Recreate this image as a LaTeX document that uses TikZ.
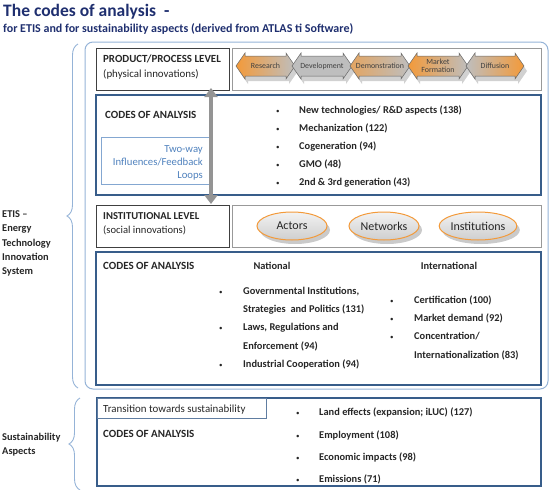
\documentclass[tikz,border=0pt]{standalone}
\usepackage{fontspec}
\setmainfont{Carlito}
\usetikzlibrary{arrows.meta,decorations.pathreplacing,shadows,shapes.geometric}
\definecolor{navy}{HTML}{1F2F6F}
\definecolor{lblue}{HTML}{95B3D7}
\definecolor{dblue}{HTML}{385D8A}
\definecolor{twblue}{HTML}{4F81BD}
\definecolor{orng}{HTML}{F39A3A}
\definecolor{cgray}{HTML}{BEBEBE}
\definecolor{txt}{HTML}{262626}
\tikzset{
  lbl/.style={anchor=base west, inner sep=0pt, text=txt, font=\fontsize{10.4}{12}\selectfont\bfseries},
  capstxt/.style={anchor=base west, inner sep=0pt, text=txt, font=\fontsize{11}{12}\selectfont\bfseries},
  reg/.style={anchor=base west, inner sep=0pt, text=txt, font=\fontsize{10.9}{12}\selectfont},
  bul/.style={anchor=base west, inner sep=0pt, text=txt, font=\fontsize{7}{8}\selectfont},
  twtxt/.style={anchor=base east, inner sep=0pt, text=twblue, font=\fontsize{10.7}{12}\selectfont},
  codebox/.style={draw=dblue, line width=1.1pt},
  levelbox/.style={draw=black!75, line width=0.8pt},
  graybox/.style={draw=black!40, line width=0.8pt},
  chevtxt/.style={inner sep=0pt, text=black!75, font=\fontsize{7.9}{8.3}\selectfont, align=center},
  oval/.style={ellipse, draw=orng, line width=1pt, minimum width=70pt, minimum height=28pt, inner sep=0pt,
    top color=gray!10, bottom color=gray!38, text=txt, font=\fontsize{12}{13}\selectfont,
    drop shadow={shadow xshift=3pt, shadow yshift=-4pt, fill=black!35, opacity=0.6}},
}
\newcommand{\chevpath}[2]{(#1,66) -- (#1+9,53) -- (#1+9,56) -- (#2-9,56) -- (#2-9,53) -- (#2,66) -- (#2-9,79) -- (#2-9,76) -- (#1+9,76) -- (#1+9,79) -- cycle}
\begin{document}
\begin{tikzpicture}[x=1pt,y=-1pt]
\useasboundingbox (0,0) rectangle (550,490);
% title
\node[anchor=base west, inner sep=0pt, text=navy, font=\fontsize{17.5}{19}\selectfont\bfseries] (title) at (3,16) {The codes of analysis\ \ -};
\node[anchor=base west, inner sep=0pt, text=navy, font=\fontsize{12}{13}\selectfont\bfseries] (subtitle) at (3,32) {for ETIS and for sustainability aspects (derived from ATLAS ti Software)};
% outer ETIS box
\draw[lblue, line width=1pt, rounded corners=8pt] (85,42) rectangle (548,389);
\draw[lblue, line width=0.9pt, decorate, decoration={brace, amplitude=11pt}] (78,388) -- (78,44);
\node[lbl] (etis1) at (2,217) {ETIS --};
\node[lbl] (etis2) at (2,231.5) {Energy};
\node[lbl] (etis3) at (2,246) {Technology};
\node[lbl] (etis4) at (2,260) {Innovation};
\node[lbl] (etis5) at (2,274) {System};
% product/process level
\draw[levelbox] (96,48) rectangle (229,90);
\node[capstxt, font=\fontsize{10.9}{12}\selectfont\bfseries] (ppl) at (103,62) {PRODUCT/PROCESS LEVEL};
\node[reg] (phys) at (103,77) {(physical innovations)};
\draw[graybox] (232,48) rectangle (541,90);
% chevron shadows
\foreach \a/\b in {236/295,292/352,350/410,408/468,466/524}{
  \fill[black!18] [shift={(3pt,-5pt)}] \chevpath{\a}{\b};
}
\path[draw=black!60, line width=0.5pt, left color=orng, right color=cgray] \chevpath{236}{295};
\path[draw=black!60, line width=0.5pt, left color=cgray, middle color=orng, right color=cgray] \chevpath{292}{352};
\path[draw=black!60, line width=0.5pt, left color=orng!70!cgray, middle color=orng, right color=cgray] \chevpath{350}{410};
\path[draw=black!60, line width=0.5pt, left color=orng, middle color=orng!80!cgray, right color=cgray] \chevpath{408}{468};
\path[draw=black!60, line width=0.5pt, left color=cgray, middle color=cgray, right color=orng] \chevpath{466}{524};
\node[chevtxt] (research) at (265.5,66) {Research};
\node[chevtxt] (development) at (322,66) {Development};
\node[chevtxt] (demonstration) at (380,66) {Demonstration};
\node[chevtxt] (market) at (438,66) {Market\\Formation};
\node[chevtxt] (diffusion) at (495,66) {Diffusion};
% codes box 1
\draw[codebox] (96,95) rectangle (541,195);
\node[capstxt] (codes1) at (105,118) {CODES OF ANALYSIS};
\draw[twblue!70, line width=0.8pt] (101,137) rectangle (211,184);
\node[twtxt] (twoway) at (203,152) {Two-way};
\node[twtxt] (influences) at (203,165) {Influences/Feedback};
\node[twtxt] (loops) at (203,178) {Loops};
\foreach \y/\t [count=\i] in {113.5/{New technologies/ R\&D aspects (138)},131.5/{Mechanization (122)},149.5/{Cogeneration (94)},167.5/{GMO (48)},185.5/{2nd \& 3rd generation (43)}}{
  \node[bul] (b1\i) at (276,\y) {•};
  \node[lbl] (t1\i) at (299,\y) {\t};
}
% institutional level
\draw[levelbox] (96,205) rectangle (229,247);
\node[capstxt, font=\fontsize{10.6}{12}\selectfont\bfseries] (inl) at (103,219) {INSTITUTIONAL LEVEL};
\node[reg, font=\fontsize{10.6}{12}\selectfont] (soc) at (103,233) {(social innovations)};
\draw[graybox] (232,205) rectangle (541,247);
\node[oval] (actors) at (292,226) {Actors};
\node[oval] (networks) at (384,226) {Networks};
\node[oval] (institutions) at (478,226) {Institutions};
% two-way arrow
\coordinate (atop) at (211,88);
\coordinate (abot) at (211,204);
\draw[black!42, line width=4.5pt, {Triangle[width=13pt,length=9pt]}-{Triangle[width=13pt,length=9pt]}] (atop) -- (abot);
% codes box 2
\draw[codebox] (96,252) rectangle (541,385);
\node[capstxt] (codes2) at (103,269) {CODES OF ANALYSIS};
\node[lbl, anchor=base] (national) at (272,269) {National};
\node[lbl, anchor=base] (international) at (449,269) {International};
\node[bul] (bn1) at (219,294) {•};
\node[lbl] (tn1) at (243,294) {Governmental Institutions,};
\node[lbl] (tn1b) at (243,312) {Strategies\ \ and Politics (131)};
\node[bul] (bn2) at (219,330) {•};
\node[lbl] (tn2) at (243,330) {Laws, Regulations and};
\node[lbl] (tn2b) at (243,349) {Enforcement (94)};
\node[bul] (bn3) at (219,367) {•};
\node[lbl] (tn3) at (243,367) {Industrial Cooperation (94)};
\node[bul] (bi1) at (390,303) {•};
\node[lbl] (ti1) at (414,303) {Certification (100)};
\node[bul] (bi2) at (390,321) {•};
\node[lbl] (ti2) at (414,321) {Market demand (92)};
\node[bul] (bi3) at (390,339) {•};
\node[lbl] (ti3) at (414,339) {Concentration/};
\node[lbl] (ti3b) at (414,358) {Internationalization (83)};
% sustainability
\draw[codebox] (97,398) rectangle (541,486);
\draw[dblue!80, line width=0.8pt] (97,398) rectangle (266,418);
\node[reg] (trans) at (103,412) {Transition towards sustainability};
\node[capstxt] (codes3) at (103,437) {CODES OF ANALYSIS};
\foreach \y/\t [count=\i] in {415/{Land effects (expansion; iLUC) (127)},438/{Employment (108)},460/{Economic impacts (98)},482/{Emissions (71)}}{
  \node[bul] (b3\i) at (296,\y) {•};
  \node[lbl] (t3\i) at (319,\y) {\t};
}
\draw[lblue, line width=0.9pt, decorate, decoration={brace, amplitude=11pt}] (80,490) -- (80,398);
\node[lbl] (sust1) at (2,440) {Sustainability};
\node[lbl] (sust2) at (2,454) {Aspects};
\end{tikzpicture}
\end{document}
